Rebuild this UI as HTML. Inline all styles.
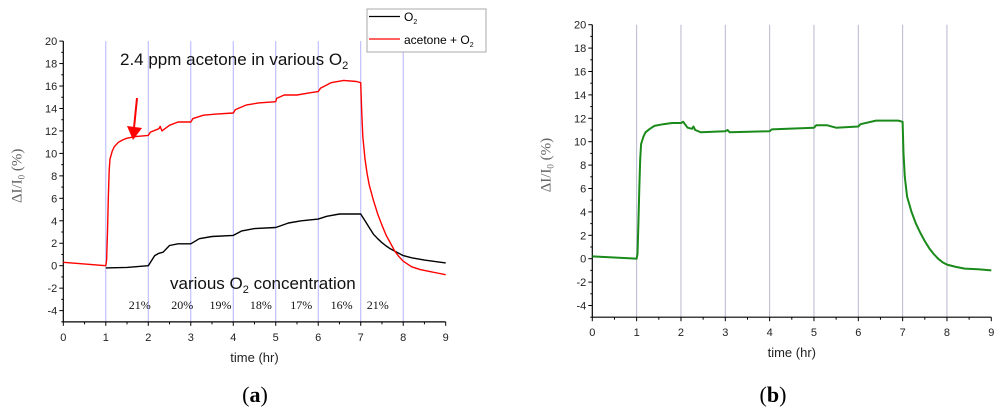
<!DOCTYPE html>
<html><head><meta charset="utf-8"><style>
body{margin:0;background:#fff;width:1000px;height:415px;overflow:hidden}
svg{font-family:"Liberation Sans",Arial,sans-serif}
</style></head><body>
<svg id="fig" width="1000" height="415">
<g id="ga"></g>
<g id="gb"></g>
</svg>
<script>
const xTicks=[0,1,2,3,4,5,6,7,8,9];
const yTicks=[-4,-2,0,2,4,6,8,10,12,14,16,18,20];
const phaseLines=[1,2,3,4,5,6,7,8];
const o2Labels=["21%","20%","19%","18%","17%","16%","21%"];
const o2LabelX=[1.8,2.8,3.7,4.65,5.6,6.55,7.4];
const redT=[0,1,1.02,1.04,1.06,1.08,1.1,1.15,1.2,1.3,1.4,1.5,1.7,2,2.05,2.25,2.28,2.32,2.5,2.7,3,3.05,3.3,3.6,4,4.05,4.3,4.6,5,5.02,5.2,5.5,5.8,6,6.05,6.3,6.6,6.9,7,7.02,7.05,7.1,7.15,7.2,7.3,7.4,7.5,7.6,7.7,7.8,7.9,8,8.2,8.4,8.6,8.8,9];
const redV=[0.3,0,0.5,3,6,8.5,9.5,10.2,10.6,11,11.2,11.35,11.5,11.6,11.9,12.2,12.4,12.0,12.5,12.8,12.8,13.1,13.4,13.5,13.6,13.9,14.3,14.5,14.6,14.9,15.2,15.2,15.4,15.5,15.8,16.3,16.5,16.4,16.3,14,11.5,9.5,8.2,7.2,5.8,4.6,3.6,2.7,2.0,1.3,0.8,0.4,-0.1,-0.35,-0.5,-0.65,-0.8];
const blackT=[1,1.5,2,2.15,2.25,2.35,2.5,2.7,3,3.2,3.5,4,4.2,4.5,5,5.3,5.6,6,6.2,6.5,7,7.1,7.2,7.3,7.4,7.5,7.6,7.7,7.8,8,8.2,8.5,8.8,9];
const blackV=[-0.2,-0.15,0,0.9,1.1,1.2,1.8,1.95,1.95,2.4,2.6,2.7,3.1,3.3,3.4,3.8,4.0,4.15,4.4,4.6,4.6,4.0,3.4,2.8,2.4,2.05,1.75,1.5,1.3,0.9,0.7,0.5,0.35,0.25];
const greenT=[0,1,1.02,1.04,1.06,1.08,1.1,1.15,1.2,1.3,1.4,1.6,1.8,2,2.05,2.15,2.25,2.28,2.32,2.45,3,3.05,3.1,4,4.05,5,5.05,5.3,5.5,6,6.05,6.4,6.9,7,7.02,7.05,7.1,7.2,7.3,7.4,7.5,7.6,7.7,7.8,7.9,8,8.2,8.4,8.7,9];
const greenV=[0.2,0,0.4,3,6,8.5,9.8,10.4,10.8,11.1,11.35,11.5,11.6,11.6,11.7,11.2,11.1,11.3,11.0,10.8,10.9,11.0,10.8,10.9,11.05,11.2,11.4,11.4,11.2,11.3,11.5,11.8,11.8,11.7,9,7,5.3,4.0,3.0,2.2,1.5,0.9,0.4,0,-0.3,-0.5,-0.7,-0.85,-0.9,-1.0];

const NS="http://www.w3.org/2000/svg";
function mk(p,tag,attrs,name,txt){const e=document.createElementNS(NS,tag);for(const k in attrs)e.setAttribute(k,attrs[k]);


if(txt!==undefined)e.textContent=txt;p.appendChild(e);return e;}

function axes(g,x0,x1,yTop,y0px,unit,vcol,gridCol){
 const X=t=>x0+(x1-x0)*t/9, Y=v=>y0px-v*unit;
 const yb=Y(-5);
 phaseLines.forEach(t=>mk(g,'line',{x1:X(t),x2:X(t),y1:Y(20),y2:yb,stroke:gridCol,'stroke-width':1},'phase-line'));
 mk(g,'line',{x1:x0,x2:x0,y1:Y(20),y2:yb,stroke:'#000','stroke-width':1.2},'y-axis');
 mk(g,'line',{x1:x0,x2:x1,y1:yb,y2:yb,stroke:'#000','stroke-width':1.2},'x-axis');
 yTicks.forEach(v=>{mk(g,'line',{x1:x0-4,x2:x0,y1:Y(v),y2:Y(v),stroke:'#000'},'y-tick');
  mk(g,'text',{x:x0-6,y:Y(v)+4,'text-anchor':'end','font-size':11,fill:'#222'},'y-tick-label',String(v));});
 for(let v=-5;v<20;v+=2)mk(g,'line',{x1:x0-2,x2:x0,y1:Y(v),y2:Y(v),stroke:'#000'},'y-minor-tick');
 xTicks.forEach(t=>{mk(g,'line',{x1:X(t),x2:X(t),y1:yb,y2:yb+4,stroke:'#000'},'x-tick');
  mk(g,'text',{x:X(t),y:yb+19,'text-anchor':'middle','font-size':11,fill:'#222'},'x-tick-label',String(t));});
 for(let t=0.5;t<9;t+=1)mk(g,'line',{x1:X(t),x2:X(t),y1:yb,y2:yb+2.5,stroke:'#000'},'x-minor-tick');
 mk(g,'text',{x:(x0+x1)/2,y:yb+40,'text-anchor':'middle','font-size':13,fill:'#222'},'x-axis-title','time (hr)');
 const yt=mk(g,'text',{transform:`translate(${x0-42},${Y(8)}) rotate(-90)`,'text-anchor':'middle','font-size':15,fill:'#666','font-family':'Liberation Serif,serif'},'y-axis-title');
 yt.innerHTML='ΔI/I<tspan font-size="9" dy="3">0</tspan><tspan dy="-3"> (%)</tspan>';
 return {X,Y};
}
function line(g,s,T,V,col,w,name){mk(g,'path',{d:T.map((t,i)=>(i?'L':'M')+s.X(t).toFixed(1)+','+s.Y(V[i]).toFixed(1)).join(''),fill:'none',stroke:col,'stroke-width':w,'stroke-linejoin':'round'},name);}

const ga=document.getElementById('ga');
const sa=axes(ga,63.3,445.7,40.7,265.7,11.23,0,'#b4b4ff');
line(ga,sa,blackT,blackV,'#000',1.4,'series-o2');
line(ga,sa,redT,redV,'#f00',1.4,'series-acetone-o2');
mk(ga,'line',{x1:137,y1:98,x2:134,y2:128,stroke:'#f00','stroke-width':2},'arrow-shaft');
mk(ga,'polygon',{points:'127,126 142,128 133,140',fill:'#f00'},'arrow-head');
const t1=mk(ga,'text',{x:120,y:65,'font-size':17,fill:'#111'},'annotation-acetone');
t1.innerHTML='2.4 ppm acetone in various O<tspan font-size="11" dy="4">2</tspan>';
const t2=mk(ga,'text',{x:170,y:289,'font-size':17,fill:'#111'},'annotation-o2');
t2.innerHTML='various O<tspan font-size="11" dy="4">2</tspan><tspan dy="-4"> concentration</tspan>';
o2Labels.forEach((l,i)=>mk(ga,'text',{x:sa.X(o2LabelX[i]),y:309,'text-anchor':'middle','font-size':12,'font-family':'Liberation Serif,serif',fill:'#111'},'o2-label',l));
mk(ga,'rect',{x:367,y:9,width:119,height:43,fill:'#fff',stroke:'#aaa'},'legend-box');
mk(ga,'line',{x1:369,x2:400,y1:16.5,y2:16.5,stroke:'#000','stroke-width':1.2},'legend-swatch-o2');
const l1=mk(ga,'text',{x:404,y:21,'font-size':12},'legend-label-o2');l1.innerHTML='O<tspan font-size="7" dy="3">2</tspan>';
mk(ga,'line',{x1:369,x2:400,y1:39,y2:39,stroke:'#f00','stroke-width':1.2},'legend-swatch-acetone');
const l2=mk(ga,'text',{x:404,y:44,'font-size':12},'legend-label-acetone');l2.innerHTML='acetone + O<tspan font-size="7" dy="3">2</tspan>';
mk(ga,'text',{x:255,y:402,'text-anchor':'middle','font-size':22,'font-family':'Liberation Serif,serif'},'panel-label-a').innerHTML='(<tspan font-weight="bold">a</tspan>)';

const gb=document.getElementById('gb');
const sb=axes(gb,592.3,991.3,25,258.7,11.7,0,'#b8b8d0');
line(gb,sb,greenT,greenV,'#1a8a1a',2,'series-acetone');
mk(gb,'text',{x:773,y:402,'text-anchor':'middle','font-size':22,'font-family':'Liberation Serif,serif'},'panel-label-b').innerHTML='(<tspan font-weight="bold">b</tspan>)';
</script>
</body></html>
